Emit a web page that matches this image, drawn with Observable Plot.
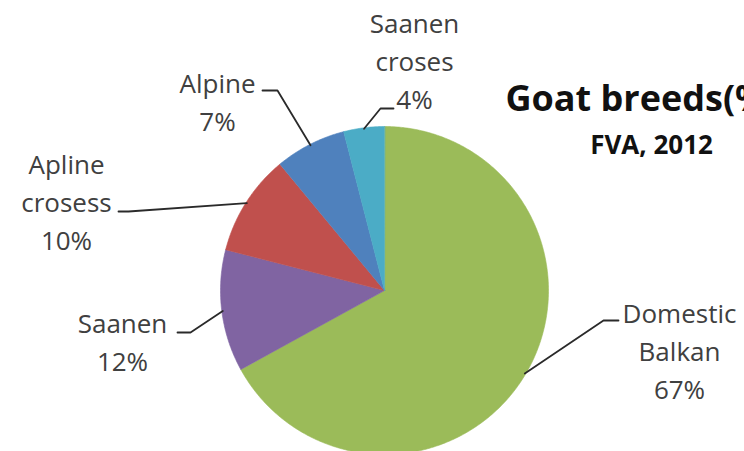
<!DOCTYPE html>
<html>
<head>
<meta charset="utf-8">
<script src="https://cdn.jsdelivr.net/npm/d3@7"></script>
<script src="https://cdn.jsdelivr.net/npm/@observablehq/plot@0.6"></script>
<style>
  html, body { margin: 0; padding: 0; background: #fff; overflow: hidden; }
  #chart { width: 744px; height: 451px; }
</style>
</head>
<body>
<div id="chart"></div>
<script>
// ---- data ----
const breeds = ["Domestic Balkan", "Saanen", "Apline crosess", "Alpine", "Saanen croses"];
const labelLines = [["Domestic", "Balkan"], ["Saanen"], ["Apline", "crosess"], ["Alpine"], ["Saanen", "croses"]];
const shares = [67, 12, 10, 7, 4];
const title = "Goat breeds(%)";
const subtitle = "FVA, 2012";

// ---- layout / style (pixels) ----
const W = 744, H = 451;
const cx = 384, cy = 290, R = 164;
const colors = ["#9BBB59", "#8064A2", "#C0504D", "#4F81BD", "#4BACC6"];
const fontSize = 26, lineGap = 38;
// label text center x, first baseline y, leader text-end point and knee point
const labelLayout = [
  {x: 679, y: 322, end: [618, 320], knee: [603, 320]},
  {x: 122, y: 332, end: [177, 332], knee: [190, 332]},
  {x: 66,  y: 173, end: [118, 211], knee: [128, 211]},
  {x: 217, y: 92,  end: [262, 90],  knee: [277, 90]},
  {x: 414, y: 32,  end: [393, 108], knee: [380, 108]}
];

// ---- geometry from data ----
const total = d3.sum(shares);
let acc = 0;
const slices = shares.map((v, i) => {
  const a0 = acc / total * 2 * Math.PI;
  acc += v;
  const a1 = acc / total * 2 * Math.PI;
  return {breed: breeds[i], value: v, a0, a1, mid: (a0 + a1) / 2};
});

const slicePts = [];
for (const s of slices) {
  slicePts.push({breed: s.breed, x: 0, y: 0});
  const n = Math.max(2, Math.ceil((s.a1 - s.a0) / (Math.PI / 360)));
  for (let k = 0; k <= n; k++) {
    const a = s.a0 + (s.a1 - s.a0) * k / n;
    slicePts.push({breed: s.breed, x: R * Math.sin(a), y: -R * Math.cos(a)});
  }
}

const leaderPts = [];
slices.forEach((s, i) => {
  const L = labelLayout[i];
  leaderPts.push({breed: s.breed, x: L.end[0] - cx, y: L.end[1] - cy});
  leaderPts.push({breed: s.breed, x: L.knee[0] - cx, y: L.knee[1] - cy});
  leaderPts.push({breed: s.breed, x: (R - 1) * Math.sin(s.mid), y: -(R - 1) * Math.cos(s.mid)});
});

const textRows = [];
slices.forEach((s, i) => {
  const L = labelLayout[i];
  const lines = [...labelLines[i], `${s.value}%`];
  lines.forEach((t, k) => {
    textRows.push({text: t, x: L.x - cx, y: L.y + k * lineGap - 0.32 * fontSize - cy});
  });
});

const plot = Plot.plot({
  width: W,
  height: H,
  margin: 0,
  x: {type: "linear", domain: [-cx, W - cx], range: [0, W], axis: null},
  y: {type: "linear", domain: [-cy, H - cy], range: [0, H], axis: null},
  color: {domain: breeds, range: colors},
  style: {fontFamily: "'Open Sans', sans-serif", background: "#fff", overflow: "hidden"},
  marks: [
    Plot.line(slicePts, {x: "x", y: "y", z: "breed", fill: "breed", stroke: "breed", strokeWidth: 0.6, curve: "linear-closed"}),
    Plot.line(leaderPts, {x: "x", y: "y", z: "breed", stroke: "#2a2a2a", strokeWidth: 1.8, curve: "linear"}),
    Plot.text(textRows, {x: "x", y: "y", text: "text", textAnchor: "middle", fontSize: fontSize, fill: "#404040"}),
    Plot.text([title], {x: () => 505 - cx, y: () => 110 - 0.32 * 36 - cy, text: d => d, textAnchor: "start", fontSize: 36, fontWeight: "bold", fill: "#111"}),
    Plot.text([subtitle], {x: () => 651 - cx, y: () => 153 - 0.32 * 26 - cy, text: d => d, textAnchor: "middle", fontSize: 26, fontWeight: "bold", fill: "#111"})
  ]
});
document.getElementById("chart").appendChild(plot);
</script>
</body>
</html>
